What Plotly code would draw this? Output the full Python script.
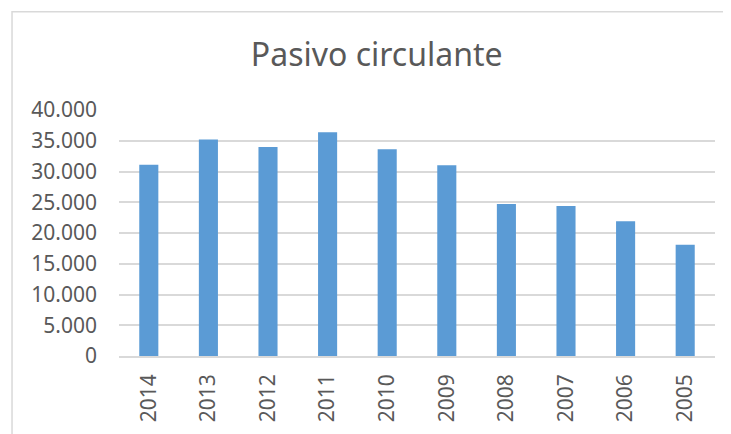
import plotly.graph_objects as go

years = ["2014", "2013", "2012", "2011", "2010", "2009", "2008", "2007", "2006", "2005"]
pasivo = [31100, 35200, 34000, 36400, 33600, 31000, 24700, 24400, 21900, 18100]
y_ticks = [0, 5000, 10000, 15000, 20000, 25000, 30000, 35000, 40000]

fig = go.Figure(go.Bar(x=years, y=pasivo, marker=dict(color="#5b9bd5", line=dict(width=0))))

fig.update_layout(
    width=723, height=426,
    paper_bgcolor="white", plot_bgcolor="white",
    margin=dict(l=111, r=16, t=102, b=76),
    separators=",.",
    bargap=0.68,
    showlegend=False,
    title=dict(text="Pasivo circulante", x=0.510, xanchor="center", y=0.8897, yanchor="middle",
               font=dict(family="Noto Sans", size=32, color="#595959")),
    font=dict(family="Noto Sans", color="#595959"),
    shapes=[dict(type="rect", xref="paper", yref="paper", x0=-0.1795, x1=1.1, y0=-0.5, y1=1.399,
                 line=dict(color="#d9d9d9", width=1.5), layer="below")],
)
fig.update_xaxes(type="category", tickangle=-90, tickfont=dict(size=21, color="#595959"),
                 showline=True, linecolor="#d9d9d9", linewidth=1.5, ticks="", showgrid=False,
                 ticklabelstandoff=8)
fig.update_yaxes(range=[0, 40000], tickvals=y_ticks, tickformat=",d",
                 tickfont=dict(size=21, color="#595959"), showgrid=True, gridcolor="#d9d9d9",
                 gridwidth=1.5, zeroline=False, showline=False, ticks="", ticklen=0, ticklabelstandoff=21)

fig.write_html("out.html")
